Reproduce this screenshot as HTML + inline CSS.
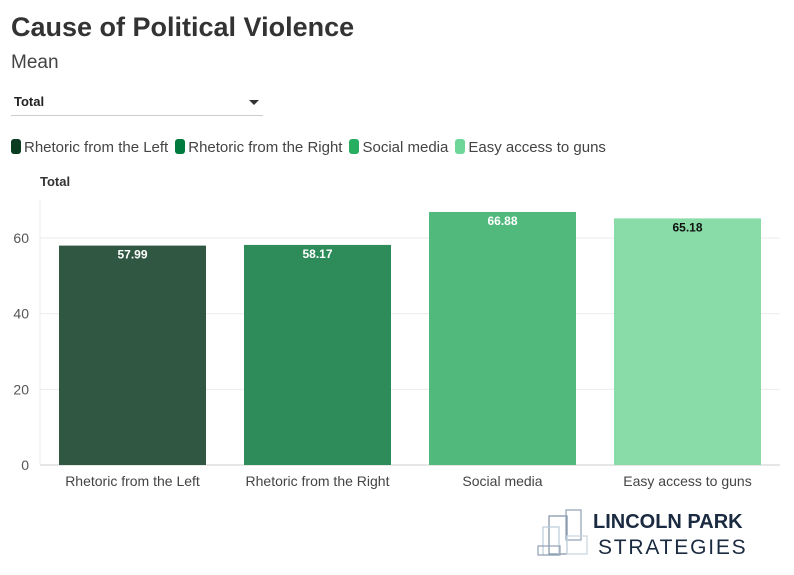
<!DOCTYPE html>
<html><head><meta charset="utf-8"><style>
body{margin:0;width:794px;height:575px;background:#fff;font-family:"Liberation Sans",sans-serif;position:relative;overflow:hidden}
.abs{position:absolute}
</style></head><body>
<div class="abs" style="left:11px;top:12px;font-size:27px;font-weight:bold;color:#333">Cause of Political Violence</div>
<div class="abs" style="left:11px;top:52px;font-size:19px;color:#444">Mean</div>
<div class="abs" style="left:11px;top:94px;width:252px;height:22px;border-bottom:1px solid #ccc;font-size:13px;font-weight:bold;color:#222;padding-left:3px;box-sizing:border-box">Total<span style="position:absolute;right:4px;top:6px;width:0;height:0;border-left:5px solid transparent;border-right:5px solid transparent;border-top:5px solid #333"></span></div>
<div class="abs" style="left:11px;top:139px;font-size:15px;color:#444;display:flex;gap:7px;white-space:nowrap" id="legend"></div>
<div class="abs" style="left:40px;top:174px;font-size:13px;font-weight:bold;color:#333">Total</div>
<svg class="abs" style="left:0;top:0" width="794" height="575" id="chart"></svg>
<div class="abs" style="left:537px;top:509px;width:220px;height:52px">
<svg width="60" height="52" style="position:absolute;left:0;top:0">
<rect x="12" y="7" width="18" height="38" fill="none" stroke="#7f8fa3" stroke-width="1.2"/>
<rect x="29" y="1" width="15" height="30" fill="none" stroke="#8fa0b5" stroke-width="1.2"/>
<rect x="6" y="18" width="16" height="28" fill="none" stroke="#b9cad8" stroke-width="1.2"/>
<rect x="1" y="37" width="22" height="9" fill="none" stroke="#8fa0b5" stroke-width="1.2"/>
<rect x="30" y="27" width="20" height="18" fill="none" stroke="#c7d5e0" stroke-width="1.2"/>
</svg>
<div style="position:absolute;left:56px;top:2px;font-size:20px;font-weight:bold;color:#1a2a40">LINCOLN PARK</div>
<div style="position:absolute;left:61px;top:27px;font-size:21px;color:#1a2a40;letter-spacing:1.8px">STRATEGIES</div>
</div>
<script>
const categories=["Rhetoric from the Left","Rhetoric from the Right","Social media","Easy access to guns"];
const values=[57.99,58.17,66.88,65.18];
const labels=["57.99","58.17","66.88","65.18"];
const yTicks=[0,20,40,60];
const barColors=["#2f5742","#2e8b5a","#50b97b","#89dca7"];
const swatchColors=["#0b3b20","#007a3d","#27ae60","#6fd69a"];
const labelColors=["#fff","#fff","#fff","#111"];
const NS="http://www.w3.org/2000/svg";
const svg=document.getElementById('chart');
const x0=40,x1=780,yBase=465,pxPer=227/60;
const y=v=>yBase-v*pxPer;
const band=(x1-x0)/categories.length,pad=19;
function mk(t,a){const e=document.createElementNS(NS,t);for(const k in a)e.setAttribute(k,a[k]);svg.appendChild(e);return e;}
yTicks.forEach(t=>{
 const l=mk('line',{x1:x0,x2:x1,y1:y(t),y2:y(t),stroke:t===0?'#ccc':'#ebebeb'});
 
 
 const tx=mk('text',{x:x0-11,y:y(t)+5,'text-anchor':'end','font-size':'14','fill':'#555','font-family':'Liberation Sans'});
 tx.textContent=t;
 
 
});
const ax=mk('line',{x1:x0,x2:x0,y1:200,y2:yBase,stroke:'#ebebeb'});


const leg=document.getElementById('legend');
categories.forEach((c,i)=>{
 const bx=x0+band*i+pad,bw=band-2*pad;
 const r=mk('rect',{x:bx,y:y(values[i]),width:bw,height:yBase-y(values[i]),fill:barColors[i]});
 
 
 const vl=mk('text',{x:bx+bw/2,y:y(values[i])+13,'text-anchor':'middle','font-size':'12','font-weight':'bold','fill':labelColors[i],'font-family':'Liberation Sans'});
 vl.textContent=labels[i];
 
 
 const xl=mk('text',{x:bx+bw/2,y:yBase+21,'text-anchor':'middle','font-size':'14','fill':'#444','font-family':'Liberation Sans'});
 xl.textContent=c;
 
 
 const le=document.createElement('span');
 
 
 le.innerHTML='<span style="display:inline-block;width:10px;height:15px;border-radius:3px;vertical-align:-2px;margin-right:3px;background:'+swatchColors[i]+'"></span>'+c;
 leg.appendChild(le);
});
</script>
</body></html>
